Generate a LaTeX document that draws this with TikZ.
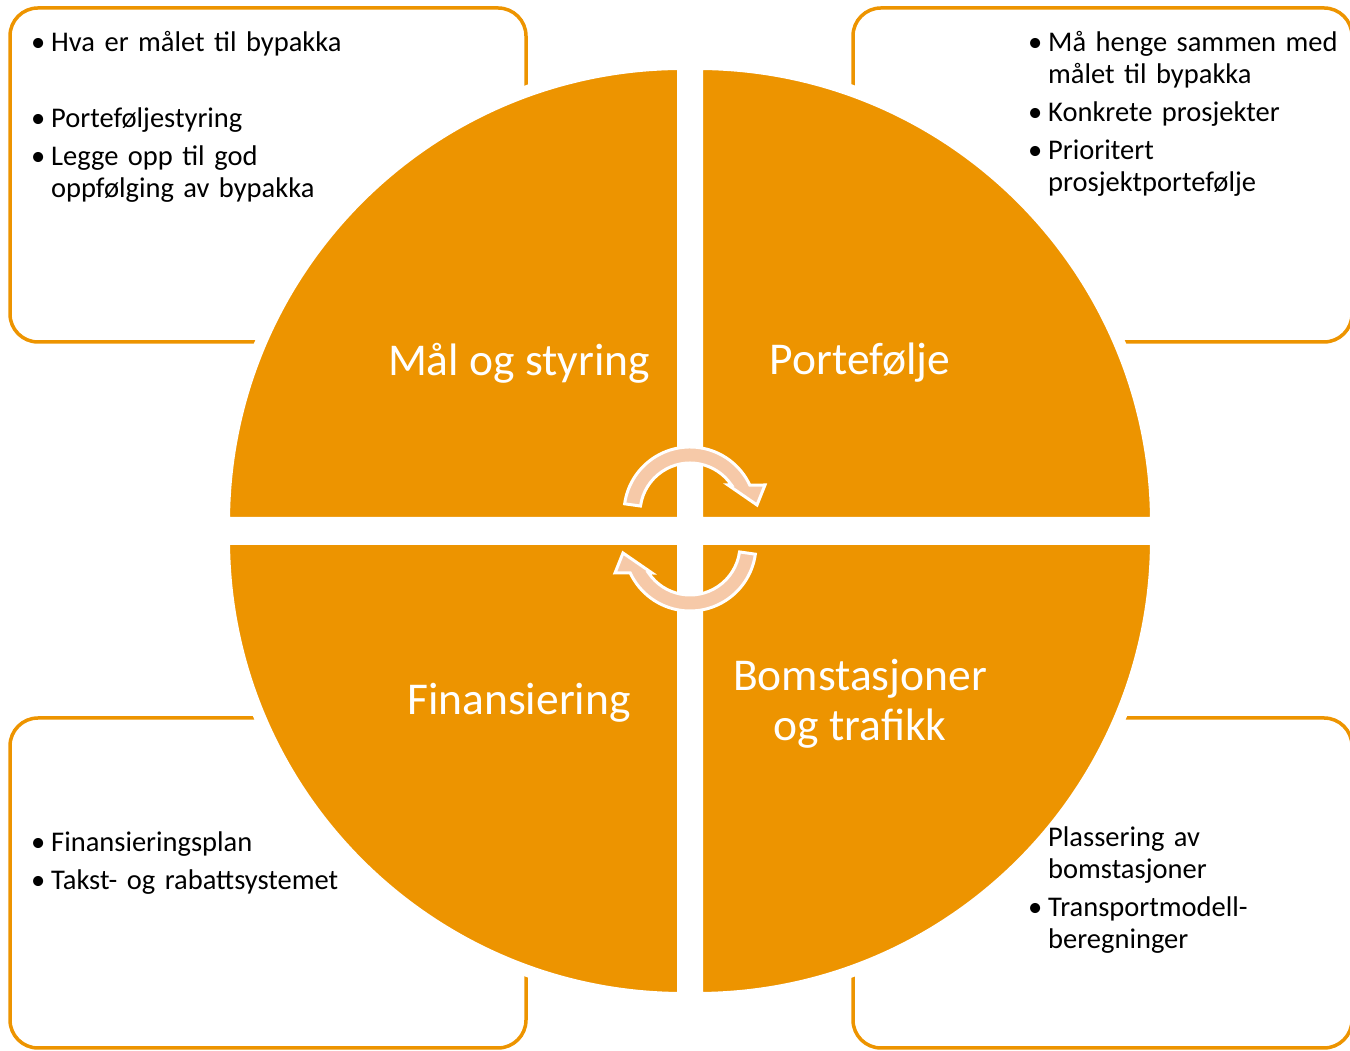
\documentclass[tikz,border=0pt]{standalone}
\usepackage{fontspec}
\setmainfont{Carlito}
\usepackage{tikz}
\definecolor{ringorange}{RGB}{237,148,0}
\definecolor{pilfarge}{RGB}{246,201,168}
\newcommand\bul{\leavevmode\llap{•\hspace{6pt}}}

\begin{document}
\begin{tikzpicture}[x=1pt,y=1pt,
	boks/.style={draw=ringorange,line width=3.5pt,rounded corners=28pt},
	kvart/.style={fill=ringorange,draw=white,line width=12pt},
	liste/.style={anchor=base west,inner sep=0pt,text width=330pt,align=left,font=\fontsize{28.5}{32}\selectfont},
	tittel/.style={text=white,align=center,inner sep=0pt,font=\fontsize{45.5}{50}\selectfont},
	pil/.style={fill=pilfarge,draw=white,line width=3pt}]
	\clip (0,0) rectangle (1350,1051);

	\draw[boks] (10,709) rectangle (526,1043);
	\draw[boks] (853,709) rectangle (1352,1043);
	\draw[boks] (10,3) rectangle (526,333);
	\draw[boks] (853,3) rectangle (1352,333);

	\path[kvart] (683,528) -- (224,528) arc[start angle=180,end angle=90,radius=459pt] -- cycle;
	\path[kvart] (697,528) -- (697,987) arc[start angle=90,end angle=0,radius=459pt] -- cycle;
	\path[kvart] (683,512) -- (683,53) arc[start angle=270,end angle=180,radius=459pt] -- cycle;
	\path[kvart] (697,512) -- (1156,512) arc[start angle=0,end angle=-90,radius=459pt] -- cycle;

	\node[liste] (malliste) at (51,999) {\bul Hva er målet til bypakka\\[44pt]\bul Porteføljestyring\\[6pt]\bul Legge opp til god\\oppfølging av bypakka};
	\node[liste] (portliste) at (1048,999) {\bul Må henge sammen med\\målet til bypakka\\[6pt]\bul Konkrete prosjekter\\[6pt]\bul Prioritert\\prosjektportefølje};
	\node[liste] (finansliste) at (51,199) {\bul Finansieringsplan\\[6pt]\bul Takst- og rabattsystemet};
	\node[liste] (bomliste) at (1048,204) {Plassering av\\bomstasjoner\\[6pt]\bul Transportmodell-\\beregninger};

	\node[tittel] (mal) at (519,688) {Mål og styring};
	\node[tittel] (portefolje) at (860,688) {Portefølje};
	\node[tittel] (finans) at (519,348) {Finansiering};
	\node[tittel] (bom) at (860,347) {Bomstasjoner\\og trafikk};

	\foreach \r in {0,180}{
		\begin{scope}[shift={(690,522)},rotate=\r,shift={(0,16)}]
			\path[pil] (172:66pt) arc[start angle=172,end angle=25,radius=66pt] -- (75,28) -- (67,8) -- (38,28) -- (34:50pt) arc[start angle=34,end angle=172,radius=50pt] -- cycle;
		\end{scope}
	}
\end{tikzpicture}
\end{document}
